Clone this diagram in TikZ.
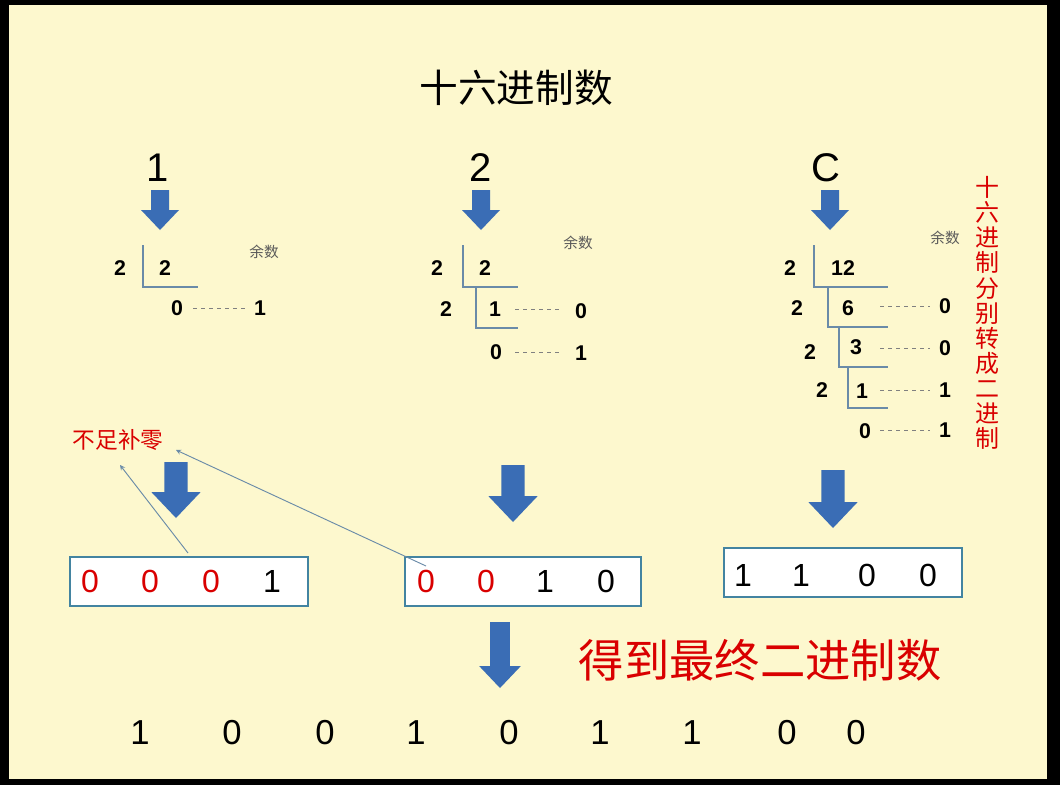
\documentclass[tikz,border=0pt]{standalone}
\usepackage{fontspec}
\setmainfont{Liberation Sans}
\newfontfamily\cjk{Noto Sans CJK SC}
\begin{document}
\begin{tikzpicture}[x=0.75pt,y=-0.75pt,
  dv/.style={font=\bfseries\fontsize{16}{18}\selectfont},
  ln/.style={draw=lnc,line width=1.2pt},
  ds/.style={draw=gray,dashed,line width=0.6pt},
  bx/.style={draw=cyan!50!teal!80!black,line width=1.5pt,fill=white},
  bd/.style={font=\fontsize{24}{26}\selectfont},
  rd/.style={bd,text=red!85!black},
  thin/.style={draw=lnc,line width=0.7pt,-stealth},
  ys/.style={font=\cjk\fontsize{11}{12}\selectfont,text=gray!70!black}]
\definecolor{bgy}{HTML}{FDF8CE}
\definecolor{arw}{HTML}{3A6DB5}
\definecolor{lnc}{HTML}{6A8BA8}
\useasboundingbox (0,0) rectangle (1060,785);
\fill[black] (0,0) rectangle (1060,785);
\fill[bgy] (9,5) rectangle (1047,779);
\newcommand{\dnarr}[4]{% x, ytop, length, scale
 \fill[arw] (#1-9*#4,#2) -- (#1+9*#4,#2) -- (#1+9*#4,#2+#3-20*#4) -- (#1+19*#4,#2+#3-20*#4) -- (#1,#2+#3) -- (#1-19*#4,#2+#3-20*#4) -- (#1-9*#4,#2+#3-20*#4) -- cycle;}
\node[font=\cjk\fontsize{29}{31}\selectfont] (title) at (516,88) {十六进制数};
\node[font=\fontsize{30}{32}\selectfont] (h1) at (158,168) {1};
\node[font=\fontsize{30}{32}\selectfont] (h2) at (481,168) {2};
\node[font=\fontsize{30}{32}\selectfont] (h3) at (826,168) {C};
\dnarr{160}{190}{40}{1}
\dnarr{481}{190}{40}{1}
\dnarr{830}{190}{40}{1}
\dnarr{176}{462}{56}{1.3}
\dnarr{513}{465}{57}{1.3}
\dnarr{833}{470}{58}{1.3}
\dnarr{500}{622}{66}{1.1}
% division 1
\node[ys] (y1) at (264,252) {余数};
\node[dv] (a1) at (120,268) {2};
\node[dv] (a2) at (165,268) {2};
\draw[ln] (143,245) -- (143,287) -- (198,287);
\node[dv] (a3) at (177,308) {0};
\node[dv] (a4) at (260,308) {1};
\draw[ds] (193,308) -- (246,308);
% division 2
\node[ys] (y2) at (578,243) {余数};
\node[dv] (b1) at (437,268) {2};
\node[dv] (b2) at (485,268) {2};
\draw[ln] (463,245) -- (463,287) -- (518,287);
\node[dv] (b3) at (446,309) {2};
\node[dv] (b4) at (495,309) {1};
\draw[ln] (476,287) -- (476,328) -- (518,328);
\node[dv] (b5) at (581,311) {0};
\draw[ds] (515,309) -- (562,309);
\node[dv] (b6) at (496,352) {0};
\node[dv] (b7) at (581,353) {1};
\draw[ds] (515,352) -- (562,352);
% division 3
\node[ys] (y3) at (945,238) {余数};
\node[dv] (c1) at (790,268) {2};
\node[dv] (c2) at (843,268) {12};
\draw[ln] (814,245) -- (814,287) -- (888,287);
\node[dv] (c3) at (797,308) {2};
\node[dv] (c4) at (848,308) {6};
\draw[ln] (828,287) -- (828,327) -- (888,327);
\node[dv] (c5) at (945,306) {0};
\draw[ds] (880,306) -- (930,306);
\node[dv] (c6) at (810,352) {2};
\node[dv] (c7) at (856,347) {3};
\draw[ln] (839,327) -- (839,367) -- (888,367);
\node[dv] (c8) at (945,348) {0};
\draw[ds] (880,348) -- (930,348);
\node[dv] (c9) at (822,390) {2};
\node[dv] (c10) at (862,391) {1};
\draw[ln] (848,367) -- (848,408) -- (888,408);
\node[dv] (c11) at (945,390) {1};
\draw[ds] (880,390) -- (930,390);
\node[dv] (c12) at (865,431) {0};
\node[dv] (c13) at (945,430) {1};
\draw[ds] (880,430) -- (930,430);
\node[font=\cjk\fontsize{18}{18.8}\selectfont,text=red!85!black,align=center,inner sep=0] (vt) at (987,313)
 {十\\六\\进\\制\\分\\别\\转\\成\\二\\进\\制};
% boxes
\node[bx,minimum width=178.5pt,minimum height=36.75pt] (box1) at (189,581.5) {};
\node[rd] (d11) at (90,581) {0};
\node[rd] (d12) at (150,581) {0};
\node[rd] (d13) at (211,581) {0};
\node[bd] (d14) at (272,581) {1};
\node[bx,minimum width=177pt,minimum height=36.75pt] (box2) at (523,581.5) {};
\node[rd] (d21) at (426,581) {0};
\node[rd] (d22) at (486,581) {0};
\node[bd] (d23) at (545,581) {1};
\node[bd] (d24) at (606,581) {0};
\node[bx,minimum width=178.5pt,minimum height=36.75pt] (box3) at (843,572.5) {};
\node[bd] (d31) at (743,575) {1};
\node[bd] (d32) at (801,575) {1};
\node[bd] (d33) at (867,575) {0};
\node[bd] (d34) at (928,575) {0};
\node[font=\cjk\fontsize{17}{18}\selectfont,text=red!85!black] (bz) at (118,440) {不足补零};
\coordinate (t1) at (120,465);
\coordinate (t2) at (176,450);
\draw[thin] (188,553) -- (t1);
\draw[thin] (426,566) -- (t2);
\node[font=\cjk\fontsize{34}{36}\selectfont,text=red!85!black] (res) at (760,660) {得到最终二进制数};
\foreach \x/\d [count=\i] in {140/1,232/0,325/0,416/1,509/0,600/1,692/1,787/0,856/0}
  \node[font=\fontsize{26}{28}\selectfont] (r\i) at (\x,733) {\d};
\end{tikzpicture}
\end{document}
